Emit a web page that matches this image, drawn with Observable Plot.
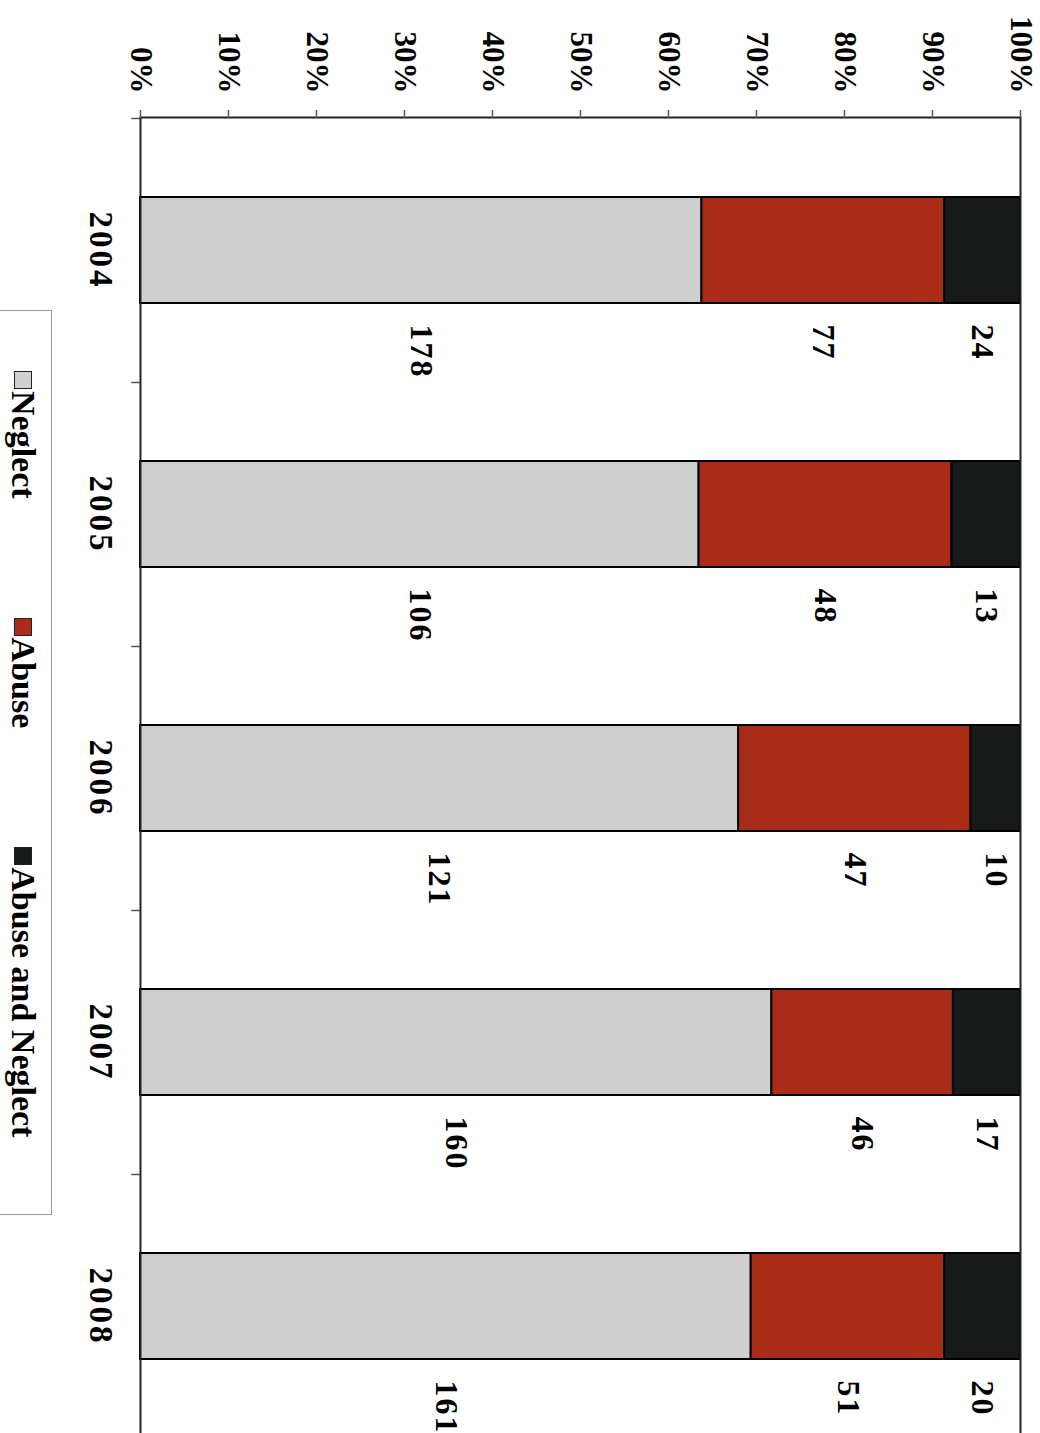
<!DOCTYPE html>
<html>
<head>
<meta charset="utf-8">
<script src="https://cdn.jsdelivr.net/npm/d3@7"></script>
<script src="https://cdn.jsdelivr.net/npm/@observablehq/plot@0.6"></script>
<style>
  html, body { margin: 0; padding: 0; overflow: hidden; background: #fff; }
  #wrap { position: relative; width: 1040px; height: 1433px; overflow: hidden; }
  #chart svg { display: block; }
  g[aria-description="years"] text { letter-spacing: 3px; }
  g[aria-description="values"] text { letter-spacing: 2px; }
  #legend {
    position: absolute; left: 52px; top: 310px; width: 905px; height: 58px;
    transform: rotate(90deg); transform-origin: 0 0;
    box-sizing: border-box; border: 1.5px solid #999; background: #fff;
    font-family: "Liberation Serif", "Times New Roman", serif; font-weight: bold;
    font-size: 34px; color: #000;
    display: flex; flex-direction: row; align-items: center;
    padding-left: 60px; white-space: nowrap;
  }
  #legend .item { display: flex; align-items: center; margin-right: 119px; }
  #legend .sw { display: inline-block; width: 18px; height: 18px; border: 1.5px solid #222; box-sizing: border-box; margin-right: 2px; }
</style>
</head>
<body>
<div id="wrap">
  <div id="chart"></div>
  <div id="legend"></div>
</div>
<script>
const years = ["2004", "2005", "2006", "2007", "2008"];
const neglect = [178, 106, 121, 160, 161];
const abuse = [77, 48, 47, 46, 51];
const abuseAndNeglect = [24, 13, 10, 17, 20];
const categories = ["Neglect", "Abuse", "Abuse and Neglect"];
const colors = ["#cfcfcf", "#a82c17", "#161a18"];
const percentTicks = [0, 0.1, 0.2, 0.3, 0.4, 0.5, 0.6, 0.7, 0.8, 0.9, 1];

const series = [neglect, abuse, abuseAndNeglect];
const rows = [];
years.forEach((year, i) => {
  categories.forEach((category, j) => {
    rows.push({year, category, value: series[j][i]});
  });
});

const font = "Liberation Serif, Times New Roman, serif";

const chart = Plot.plot({
  width: 1040,
  height: 1440,
  marginLeft: 140,
  marginRight: 20,
  marginTop: 117,
  marginBottom: 2,
  x: {domain: [0, 1], axis: null},
  y: {domain: years, paddingInner: 0.6, paddingOuter: 0.3, axis: null},
  color: {domain: categories, range: colors},
  marks: [
    Plot.barX(rows, Plot.stackX({
      offset: "normalize", x: "value", y: "year", fill: "category",
      stroke: "#000", strokeWidth: 2
    })),
    Plot.frame({stroke: "#222", strokeWidth: 2}),
    Plot.ruleY(years, {y: d => d, x1: -0.01, x2: 0, dy: -132, stroke: "#555", strokeWidth: 1.5}),
    Plot.axisX({anchor: "top", ticks: percentTicks, tickSize: 8, tickFormat: () => "", label: null, stroke: "#555", strokeWidth: 1.5}),
    Plot.text(percentTicks, {
      x: d => d, frameAnchor: "top", dy: -24, text: d => d3.format(".0%")(d),
      rotate: 90, textAnchor: "end", lineAnchor: "middle",
      fontSize: 31, fontWeight: "bold", fontFamily: font, fill: "#000"
    }),
    Plot.text(years, {
      y: d => d, frameAnchor: "left", dx: -40, text: d => d,
      rotate: 90, textAnchor: "middle", lineAnchor: "middle",
      fontSize: 33, fontWeight: "bold", fontFamily: font, fill: "#000",
      ariaDescription: "years"
    }),
    Plot.text(rows, Plot.stackX({
      offset: "normalize", x: "value", y: "year", z: "category", text: "value",
      dy: 74, rotate: 90, textAnchor: "start", lineAnchor: "middle",
      fontSize: 32, fontWeight: "bold", fontFamily: font, fill: "#000",
      ariaDescription: "values"
    }))
  ]
});
document.getElementById("chart").appendChild(chart);

const legend = document.getElementById("legend");
categories.forEach((c, i) => {
  const item = document.createElement("span");
  item.className = "item";
  const sw = document.createElement("span");
  sw.className = "sw";
  sw.style.background = colors[i];
  item.appendChild(sw);
  item.appendChild(document.createTextNode(c));
  legend.appendChild(item);
});
</script>
</body>
</html>
